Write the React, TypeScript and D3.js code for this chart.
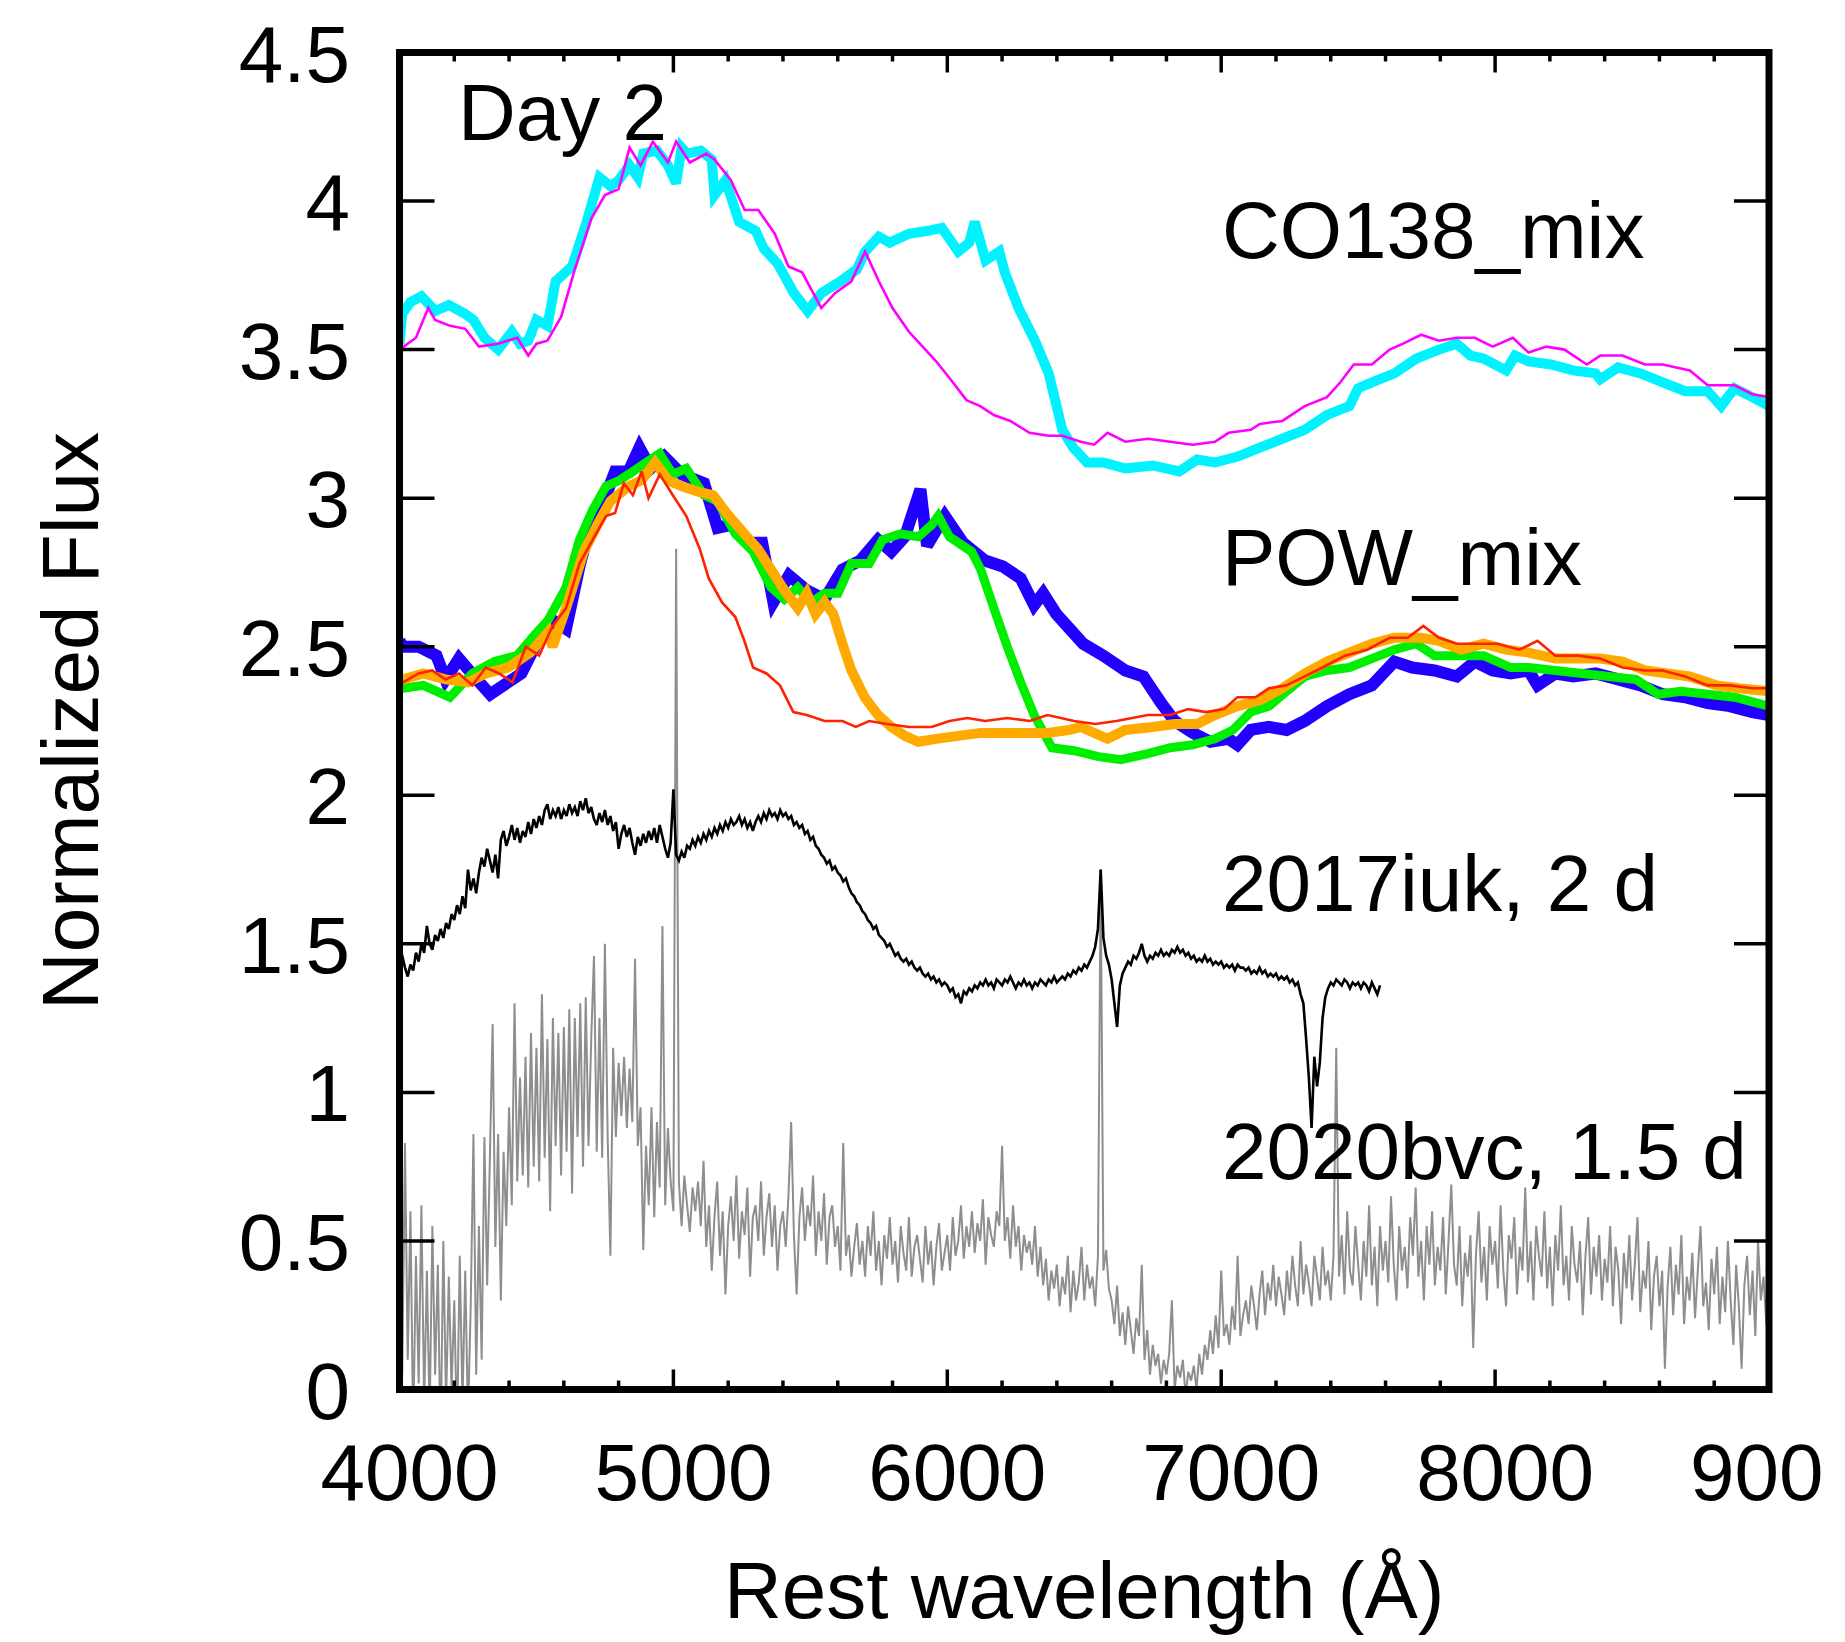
import React from "react";
import * as d3 from "d3";

type Pt = [number, number];

const W = 1845;
const H = 1642;

const xTickValues = [4000, 5000, 6000, 7000, 8000, 9000];
// the last label is cut by the figure edge in the reference, it reads "900"
const xTickLabels = ["4000", "5000", "6000", "7000", "8000", "900"];
const yTickValues = [0, 0.5, 1, 1.5, 2, 2.5, 3, 3.5, 4, 4.5];
const yTickLabels = ["0", "0.5", "1", "1.5", "2", "2.5", "3", "3.5", "4", "4.5"];
const xMinorStep = 200;

const xTitle = "Rest wavelength (\u00c5)";
const yTitle = "Normalized Flux";
const panelLabel = "Day 2";
const seriesLabels = ["CO138_mix", "POW_mix", "2017iuk, 2 d", "2020bvc, 1.5 d"];

// CO138_mix models
const cyanData: Pt[] = [
  [4000,3.52],[4010,3.62],[4040,3.66],[4080,3.68],[4130,3.63],[4180,3.65],[4240,3.62],[4270,3.60],[4310,3.54],[4360,3.50],
  [4410,3.56],[4440,3.52],[4470,3.53],[4500,3.60],[4540,3.58],[4570,3.73],[4630,3.78],[4680,3.92],[4730,4.08],[4770,4.05],
  [4800,4.07],[4840,4.12],[4870,4.08],[4890,4.16],[4940,4.17],[4980,4.12],[5010,4.06],[5030,4.18],[5050,4.16],[5100,4.17],
  [5140,4.14],[5150,4.02],[5190,4.07],[5240,3.93],[5300,3.90],[5330,3.84],[5380,3.79],[5440,3.69],[5490,3.63],[5540,3.69],
  [5610,3.73],[5670,3.77],[5700,3.83],[5750,3.88],[5790,3.86],[5860,3.89],[5930,3.90],[5980,3.91],[6040,3.83],[6080,3.86],
  [6100,3.93],[6140,3.80],[6190,3.83],[6210,3.76],[6260,3.64],[6320,3.53],[6370,3.42],[6420,3.23],[6460,3.17],[6510,3.12],
  [6570,3.12],[6650,3.10],[6750,3.11],[6847,3.09],[6912,3.13],[6977,3.12],[7060,3.14],[7141,3.17],[7223,3.20],[7305,3.23],
  [7386,3.28],[7468,3.31],[7500,3.37],[7550,3.39],[7632,3.42],[7713,3.47],[7795,3.50],[7860,3.52],[7910,3.48],[7958,3.47],
  [8040,3.43],[8073,3.48],[8122,3.46],[8204,3.45],[8285,3.43],[8367,3.42],[8384,3.40],[8449,3.44],[8531,3.42],[8612,3.39],
  [8694,3.36],[8776,3.36],[8825,3.31],[8874,3.37],[8939,3.34],[9000,3.31]
];

const magentaData: Pt[] = [
  [4000,3.50],[4060,3.54],[4105,3.64],[4130,3.60],[4185,3.58],[4240,3.57],[4290,3.51],[4360,3.52],[4430,3.54],[4470,3.48],
  [4500,3.52],[4540,3.53],[4590,3.61],[4640,3.77],[4700,3.94],[4750,4.02],[4800,4.04],[4840,4.18],[4880,4.12],[4925,4.20],
  [4980,4.13],[5010,4.20],[5060,4.13],[5120,4.16],[5150,4.14],[5210,4.07],[5260,3.97],[5310,3.97],[5370,3.89],[5420,3.78],
  [5470,3.76],[5540,3.64],[5590,3.69],[5650,3.73],[5700,3.83],[5750,3.73],[5800,3.64],[5860,3.56],[5910,3.51],[5960,3.46],
  [6020,3.39],[6070,3.33],[6120,3.31],[6170,3.28],[6230,3.26],[6300,3.22],[6370,3.21],[6420,3.21],[6487,3.19],[6536,3.18],
  [6585,3.22],[6650,3.19],[6732,3.20],[6814,3.19],[6896,3.18],[6977,3.19],[7027,3.22],[7108,3.23],[7141,3.25],[7223,3.26],
  [7305,3.31],[7386,3.34],[7435,3.39],[7484,3.45],[7550,3.45],[7615,3.50],[7664,3.52],[7730,3.55],[7795,3.53],[7860,3.54],
  [7926,3.54],[7991,3.51],[8065,3.54],[8122,3.49],[8187,3.51],[8253,3.50],[8335,3.45],[8384,3.48],[8465,3.48],[8547,3.45],
  [8612,3.45],[8711,3.43],[8776,3.38],[8874,3.38],[8939,3.35],[9000,3.34]
];

// POW_mix models
const blueData: Pt[] = [
  [4000,2.52],[4013,2.50],[4070,2.50],[4135,2.47],[4168,2.39],[4217,2.46],[4282,2.39],[4331,2.34],[4396,2.38],[4445,2.41],
  [4494,2.50],[4559,2.59],[4608,2.56],[4657,2.77],[4705,2.94],[4754,3.01],[4787,3.09],[4836,3.09],[4876,3.17],[4917,3.10],
  [4966,3.14],[5031,3.08],[5112,3.05],[5161,2.90],[5210,2.91],[5275,2.85],[5324,2.85],[5365,2.65],[5422,2.74],[5487,2.69],
  [5552,2.66],[5617,2.76],[5682,2.79],[5747,2.86],[5796,2.82],[5845,2.87],[5902,3.03],[5926,2.84],[5991,2.94],[6057,2.85],
  [6138,2.79],[6203,2.77],[6268,2.73],[6317,2.64],[6350,2.68],[6398,2.61],[6447,2.56],[6496,2.51],[6569,2.47],[6650,2.42],
  [6716,2.40],[6781,2.31],[6830,2.25],[6896,2.21],[6961,2.18],[7027,2.19],[7059,2.17],[7108,2.22],[7174,2.23],[7239,2.22],
  [7305,2.25],[7386,2.30],[7468,2.34],[7550,2.37],[7632,2.45],[7697,2.43],[7779,2.42],[7860,2.40],[7926,2.45],[7991,2.42],
  [8057,2.41],[8122,2.42],[8155,2.37],[8220,2.41],[8285,2.40],[8367,2.41],[8449,2.39],[8531,2.37],[8612,2.34],[8694,2.33],
  [8776,2.31],[8857,2.30],[8939,2.28],[9000,2.27]
];

const greenData: Pt[] = [
  [4000,2.36],[4013,2.36],[4087,2.37],[4184,2.33],[4266,2.41],[4347,2.45],[4429,2.47],[4494,2.54],[4543,2.59],[4608,2.70],
  [4657,2.86],[4705,2.96],[4754,3.04],[4803,3.06],[4852,3.09],[4900,3.12],[4950,3.15],[4998,3.08],[5047,3.10],[5112,3.01],
  [5161,2.99],[5226,2.88],[5291,2.82],[5356,2.70],[5405,2.66],[5454,2.70],[5503,2.65],[5552,2.68],[5601,2.68],[5650,2.78],
  [5715,2.78],[5764,2.86],[5829,2.88],[5894,2.87],[5943,2.91],[5967,2.94],[6008,2.87],[6089,2.82],[6122,2.76],[6170,2.63],
  [6219,2.50],[6268,2.38],[6317,2.27],[6382,2.16],[6463,2.15],[6552,2.13],[6634,2.12],[6732,2.14],[6814,2.16],[6896,2.17],
  [6977,2.19],[7043,2.22],[7108,2.28],[7174,2.30],[7239,2.35],[7305,2.40],[7386,2.42],[7468,2.43],[7550,2.46],[7632,2.49],
  [7713,2.51],[7779,2.47],[7860,2.47],[7958,2.47],[8057,2.43],[8122,2.43],[8220,2.42],[8318,2.41],[8416,2.40],[8514,2.39],
  [8596,2.34],[8678,2.35],[8776,2.34],[8874,2.33],[9000,2.30]
];

const orangeData: Pt[] = [
  [4000,2.39],[4013,2.39],[4087,2.41],[4168,2.39],[4250,2.38],[4315,2.41],[4396,2.43],[4477,2.48],[4543,2.55],[4559,2.50],
  [4608,2.63],[4673,2.82],[4722,2.91],[4770,2.99],[4836,3.04],[4884,3.06],[4933,3.12],[4982,3.06],[5031,3.04],[5096,3.02],
  [5145,3.01],[5194,2.95],[5259,2.88],[5308,2.83],[5356,2.76],[5405,2.69],[5454,2.63],[5487,2.68],[5519,2.61],[5552,2.65],
  [5584,2.61],[5617,2.51],[5650,2.42],[5698,2.33],[5747,2.27],[5796,2.23],[5845,2.20],[5894,2.18],[5959,2.19],[6040,2.20],
  [6122,2.21],[6203,2.21],[6284,2.21],[6366,2.21],[6447,2.22],[6487,2.23],[6585,2.19],[6650,2.22],[6749,2.23],[6830,2.24],
  [6912,2.24],[6977,2.27],[7059,2.30],[7141,2.32],[7223,2.36],[7305,2.41],[7386,2.45],[7468,2.48],[7550,2.51],[7632,2.53],
  [7730,2.53],[7795,2.52],[7877,2.49],[7958,2.51],[8040,2.49],[8122,2.48],[8220,2.46],[8302,2.46],[8384,2.46],[8465,2.45],
  [8547,2.42],[8629,2.41],[8710,2.40],[8808,2.37],[8890,2.36],[9000,2.35]
];

const redData: Pt[] = [
  [4000,2.37],[4013,2.38],[4070,2.41],[4119,2.42],[4168,2.39],[4217,2.41],[4266,2.37],[4315,2.43],[4364,2.41],[4412,2.38],
  [4461,2.50],[4510,2.47],[4559,2.57],[4608,2.63],[4657,2.78],[4705,2.86],[4754,2.94],[4787,2.95],[4819,3.05],[4852,3.01],
  [4884,3.09],[4909,3.00],[4950,3.08],[4998,3.01],[5047,2.94],[5096,2.83],[5129,2.73],[5177,2.65],[5226,2.60],[5259,2.52],
  [5291,2.43],[5340,2.41],[5389,2.37],[5438,2.28],[5487,2.27],[5552,2.25],[5617,2.25],[5666,2.23],[5715,2.25],[5780,2.24],
  [5861,2.23],[5943,2.23],[6008,2.25],[6073,2.26],[6138,2.25],[6219,2.26],[6301,2.25],[6366,2.27],[6463,2.25],[6540,2.24],
  [6618,2.25],[6732,2.27],[6814,2.27],[6879,2.29],[6945,2.28],[7010,2.29],[7059,2.33],[7125,2.33],[7174,2.36],[7239,2.37],
  [7305,2.40],[7370,2.43],[7452,2.47],[7533,2.49],[7615,2.53],[7681,2.53],[7738,2.57],[7795,2.53],[7860,2.51],[7926,2.51],
  [8008,2.51],[8089,2.49],[8155,2.52],[8220,2.47],[8302,2.47],[8384,2.46],[8465,2.43],[8547,2.42],[8612,2.42],[8694,2.40],
  [8776,2.37],[8857,2.37],[8939,2.36],[9000,2.36]
];

// SN 2017iuk, 2 d (10 A sampling from 4000 A)
const blackStart = 4000;
const blackStep = 10;
const blackFlux: number[] = [
  1.50,1.46,1.42,1.39,1.43,1.41,1.47,1.44,1.50,1.47,
  1.56,1.50,1.48,1.53,1.51,1.55,1.52,1.57,1.55,1.60,
  1.58,1.63,1.60,1.66,1.62,1.75,1.68,1.72,1.67,1.74,
  1.79,1.76,1.82,1.78,1.74,1.80,1.72,1.85,1.88,1.83,
  1.86,1.90,1.85,1.89,1.84,1.88,1.86,1.91,1.87,1.92,
  1.89,1.93,1.90,1.95,1.97,1.92,1.95,1.93,1.96,1.92,
  1.95,1.93,1.97,1.94,1.96,1.93,1.98,1.95,1.99,1.94,
  1.96,1.92,1.90,1.94,1.91,1.95,1.90,1.93,1.88,1.91,
  1.82,1.87,1.90,1.86,1.89,1.84,1.80,1.86,1.83,1.87,
  1.84,1.88,1.85,1.89,1.84,1.90,1.86,1.82,1.79,1.84,
  2.02,1.80,1.78,1.81,1.79,1.83,1.82,1.85,1.83,1.86,
  1.84,1.87,1.85,1.88,1.86,1.89,1.87,1.90,1.88,1.91,
  1.89,1.92,1.90,1.91,1.93,1.90,1.92,1.89,1.91,1.88,
  1.91,1.93,1.91,1.94,1.92,1.95,1.93,1.94,1.92,1.95,
  1.93,1.94,1.92,1.93,1.90,1.91,1.89,1.90,1.87,1.88,
  1.85,1.86,1.83,1.82,1.80,1.79,1.77,1.78,1.75,1.76,
  1.74,1.73,1.71,1.72,1.69,1.67,1.66,1.64,1.63,1.61,
  1.60,1.58,1.57,1.55,1.56,1.53,1.52,1.51,1.49,1.50,
  1.48,1.46,1.47,1.45,1.44,1.45,1.43,1.44,1.42,1.41,
  1.42,1.40,1.39,1.40,1.38,1.39,1.37,1.38,1.36,1.37,
  1.36,1.34,1.35,1.32,1.33,1.30,1.34,1.33,1.35,1.34,
  1.36,1.35,1.37,1.36,1.38,1.36,1.37,1.35,1.38,1.37,
  1.36,1.38,1.37,1.39,1.37,1.35,1.37,1.36,1.38,1.36,
  1.37,1.35,1.37,1.36,1.38,1.37,1.36,1.38,1.37,1.39,
  1.37,1.38,1.39,1.38,1.40,1.39,1.41,1.40,1.42,1.41,
  1.43,1.42,1.44,1.46,1.49,1.55,1.75,1.52,1.46,1.43,
  1.38,1.30,1.22,1.36,1.40,1.42,1.44,1.43,1.46,1.45,
  1.47,1.50,1.46,1.44,1.46,1.45,1.47,1.46,1.48,1.46,
  1.47,1.46,1.48,1.47,1.49,1.47,1.48,1.46,1.47,1.45,
  1.46,1.44,1.45,1.44,1.46,1.44,1.45,1.43,1.44,1.43,
  1.44,1.42,1.43,1.42,1.43,1.41,1.43,1.42,1.42,1.41,
  1.42,1.40,1.41,1.40,1.42,1.40,1.41,1.39,1.40,1.39,
  1.40,1.38,1.39,1.38,1.39,1.37,1.38,1.36,1.37,1.33,
  1.30,1.18,1.05,0.88,1.12,1.02,1.10,1.25,1.32,1.35,
  1.37,1.36,1.38,1.37,1.36,1.38,1.37,1.35,1.37,1.36,
  1.37,1.35,1.37,1.36,1.34,1.37,1.35,1.33,1.36
];

// SN 2020bvc, 1.5 d (10 A sampling from 4000 A)
const grayStart = 4000;
const grayStep = 10;
const grayFlux: number[] = [
  0.55,0.05,0.83,0.10,0.60,-0.15,0.45,0.02,0.62,-0.05,
  0.40,-0.10,0.55,0.05,0.42,-0.20,0.50,-0.05,0.38,0.00,
  0.30,-0.15,0.45,-0.05,0.40,-0.10,0.28,0.86,0.05,0.55,
  0.10,0.85,0.35,0.78,1.23,0.48,0.86,0.30,0.80,0.55,
  0.95,0.62,1.30,0.70,1.05,0.72,1.12,0.68,1.20,0.75,
  1.15,0.70,1.33,0.78,1.18,0.60,1.25,0.82,1.20,0.72,
  1.22,0.80,1.28,0.66,1.25,0.85,1.30,0.75,1.32,0.82,
  1.18,1.46,0.80,1.25,0.78,1.50,0.85,0.45,1.15,0.85,
  1.10,0.92,1.12,0.88,1.08,0.90,1.45,0.82,0.95,0.47,
  0.82,0.62,0.95,0.58,0.90,0.68,1.56,0.62,0.88,0.70,
  0.60,2.83,0.70,0.55,0.72,0.62,0.53,0.68,0.60,0.70,
  0.55,0.77,0.48,0.62,0.40,0.58,0.70,0.45,0.60,0.32,
  0.55,0.65,0.50,0.72,0.44,0.60,0.52,0.68,0.38,0.58,
  0.62,0.50,0.70,0.45,0.58,0.66,0.48,0.62,0.40,0.55,
  0.60,0.48,0.65,0.90,0.52,0.32,0.58,0.68,0.50,0.62,
  0.55,0.72,0.45,0.60,0.50,0.66,0.42,0.58,0.62,0.48,
  0.55,0.40,0.83,0.45,0.52,0.38,0.48,0.56,0.42,0.50,
  0.38,0.55,0.45,0.60,0.40,0.50,0.35,0.52,0.44,0.58,
  0.42,0.50,0.36,0.55,0.46,0.40,0.58,0.38,0.48,0.52,
  0.44,0.36,0.55,0.42,0.50,0.35,0.48,0.56,0.40,0.46,
  0.52,0.40,0.58,0.45,0.50,0.62,0.44,0.55,0.48,0.60,
  0.46,0.56,0.50,0.64,0.42,0.58,0.52,0.48,0.60,0.55,
  0.82,0.50,0.58,0.44,0.62,0.48,0.55,0.40,0.52,0.46,
  0.50,0.42,0.55,0.38,0.48,0.35,0.44,0.30,0.40,0.34,
  0.42,0.28,0.38,0.32,0.45,0.26,0.40,0.30,0.36,0.48,
  0.30,0.42,0.34,0.38,0.28,0.45,1.75,0.40,0.47,0.34,
  0.30,0.22,0.35,0.18,0.26,0.15,0.28,0.20,0.12,0.24,
  0.18,0.42,0.10,0.20,0.05,0.15,0.08,0.12,0.02,0.10,
  0.05,0.12,0.30,0.00,0.08,0.04,0.10,-0.02,0.06,0.03,
  0.08,0.00,0.12,0.05,0.15,0.10,0.20,0.12,0.25,0.14,
  0.40,0.18,0.22,0.15,0.28,0.20,0.45,0.18,0.25,0.30,
  0.22,0.35,0.28,0.20,0.32,0.40,0.25,0.36,0.30,0.42,
  0.28,0.38,0.32,0.25,0.40,0.30,0.45,0.35,0.28,0.50,
  0.32,0.42,0.36,0.28,0.45,0.38,0.30,0.48,0.35,0.40,
  0.30,0.45,1.15,0.38,0.52,0.32,0.60,0.40,0.35,0.55,
  0.42,0.30,0.50,0.38,0.62,0.35,0.48,0.28,0.55,0.40,
  0.50,0.36,0.65,0.42,0.30,0.55,0.40,0.48,0.34,0.58,
  0.45,0.68,0.38,0.50,0.30,0.55,0.42,0.60,0.35,0.48,
  0.40,0.58,0.32,0.50,0.69,0.42,0.35,0.55,0.28,0.46,
  0.38,0.52,0.14,0.45,0.60,0.36,0.48,0.30,0.55,0.42,
  0.50,0.34,0.62,0.40,0.28,0.52,0.44,0.58,0.32,0.48,
  0.40,0.68,0.36,0.50,0.30,0.55,0.45,0.38,0.60,0.34,
  0.48,0.28,0.52,0.40,0.62,0.35,0.45,0.30,0.55,0.42,
  0.36,0.50,0.25,0.45,0.58,0.32,0.48,0.38,0.52,0.30,
  0.44,0.36,0.55,0.28,0.48,0.40,0.22,0.46,0.34,0.52,
  0.30,0.42,0.58,0.26,0.40,0.34,0.50,0.20,0.38,0.45,
  0.28,0.40,0.07,0.35,0.48,0.25,0.42,0.32,0.52,0.22,
  0.38,0.30,0.46,0.24,0.40,0.55,0.28,0.36,0.20,0.44,
  0.32,0.48,0.22,0.38,0.26,0.50,0.30,0.15,0.42,0.28,
  0.07,0.35,0.45,0.25,0.40,0.18,0.50,0.30,0.38,0.22,
  0.42
];

const FONT = "'Liberation Sans', Arial, Helvetica, sans-serif";

export default function App() {
  const left = 399.5, right = 1769, top = 52.5, bottom = 1389.5;
  const x = d3.scaleLinear().domain([4000, 9000]).range([left, right]);
  const y = d3.scaleLinear().domain([0, 4.5]).range([bottom, top]);
  const line = d3.line<Pt>().x((d) => x(d[0])).y((d) => y(d[1]));
  const grayData: Pt[] = grayFlux.map((f, i) => [grayStart + i * grayStep, f]);
  const blackData: Pt[] = blackFlux.map((f, i) => [blackStart + i * blackStep, f]);

  const minor: number[] = d3.range(4000 + xMinorStep, 9000, xMinorStep).filter((v) => v % 1000 !== 0);
  const majorX = xTickValues.filter((v) => v > 4000 && v < 9000);
  const majorY = yTickValues.filter((v) => v > 0 && v < 4.5);

  const series: { d: Pt[]; c: string; w: number }[] = [
    { d: grayData, c: "#8e8e8e", w: 2 },
    { d: blackData, c: "#000000", w: 2.6 },
    { d: cyanData, c: "#00f2ff", w: 10 },
    { d: magentaData, c: "#ff00ff", w: 2.6 },
    { d: blueData, c: "#2200ff", w: 12 },
    { d: greenData, c: "#00ee00", w: 9 },
    { d: orangeData, c: "#ffaa00", w: 10 },
    { d: redData, c: "#ff2200", w: 2.6 },
  ];

  const labelY = [258, 585, 911, 1179];
  const digitW = 80 * 0.556;

  return (
    <svg width={W} height={H} style={{ position: "absolute", left: 0, top: 0, background: "#fff" }} fontFamily={FONT}>
      <defs>
        <clipPath id="plot">
          <rect x={left} y={top} width={right - left} height={bottom - top} />
        </clipPath>
      </defs>
      <rect x={0} y={0} width={W} height={H} fill="#fff" />
      <g clipPath="url(#plot)" fill="none" strokeLinejoin="miter" strokeMiterlimit={3}>
        {series.map((s, i) => (
          <path key={i} d={line(s.d) || ""} stroke={s.c} strokeWidth={s.w} />
        ))}
      </g>
      <g stroke="#000" strokeWidth={3.5}>
        {majorX.map((v) => (
          <g key={"mx" + v}>
            <line x1={x(v)} x2={x(v)} y1={bottom} y2={bottom - 20} />
            <line x1={x(v)} x2={x(v)} y1={top} y2={top + 20} />
          </g>
        ))}
        {minor.map((v) => (
          <g key={"mn" + v}>
            <line x1={x(v)} x2={x(v)} y1={bottom} y2={bottom - 9} />
            <line x1={x(v)} x2={x(v)} y1={top} y2={top + 9} />
          </g>
        ))}
        {majorY.map((v) => (
          <g key={"my" + v}>
            <line x1={left} x2={left + 35} y1={y(v)} y2={y(v)} />
            <line x1={right} x2={right - 35} y1={y(v)} y2={y(v)} />
          </g>
        ))}
      </g>
      <rect x={left} y={top} width={right - left} height={bottom - top} fill="none" stroke="#000" strokeWidth={7} />
      <g fontSize={80} fill="#000">
        {xTickValues.map((v, i) => (
          <text key={"xl" + v} x={x(v) + 10 - 2 * digitW} y={1500} textAnchor="start">
            {xTickLabels[i]}
          </text>
        ))}
      </g>
      <g fontSize={80} fill="#000">
        {yTickValues.map((v, i) => (
          <text key={"yl" + v} x={350} y={y(v) + 29} textAnchor="end">
            {yTickLabels[i]}
          </text>
        ))}
      </g>
      <text x={458} y={140} fontSize={80}>{panelLabel}</text>
      {seriesLabels.map((s, i) => (
        <text key={s} x={1222} y={labelY[i]} fontSize={80}>
          {s}
        </text>
      ))}
      <text x={(left + right) / 2} y={1618} fontSize={80} textAnchor="middle">
        {xTitle}
      </text>
      <text transform={`translate(98, ${(top + bottom) / 2}) rotate(-90)`} fontSize={80} textAnchor="middle">
        {yTitle}
      </text>
    </svg>
  );
}
